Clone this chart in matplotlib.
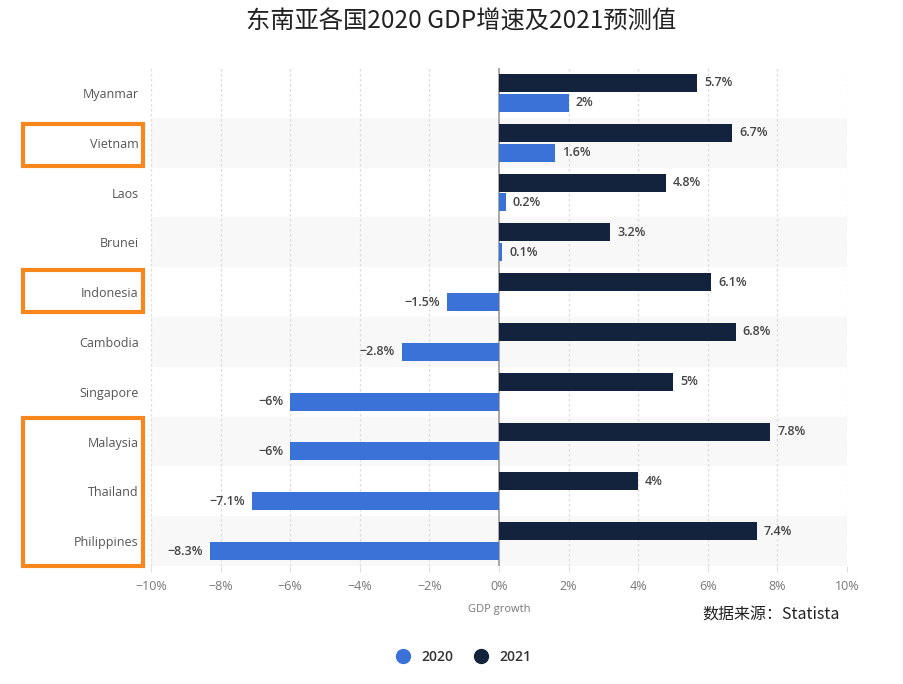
import matplotlib.pyplot as plt
from matplotlib.patches import Rectangle
from matplotlib.lines import Line2D

countries = ["Myanmar", "Vietnam", "Laos", "Brunei", "Indonesia", "Cambodia",
             "Singapore", "Malaysia", "Thailand", "Philippines"]
gdp_2020 = [2, 1.6, 0.2, 0.1, -1.5, -2.8, -6, -6, -7.1, -8.3]
gdp_2021 = [5.7, 6.7, 4.8, 3.2, 6.1, 6.8, 5, 7.8, 4, 7.4]
xticks = [-10, -8, -6, -4, -2, 0, 2, 4, 6, 8, 10]

c2020 = "#3a72d8"
c2021 = "#14233d"
orange = "#f7861c"

plt.rcParams["font.family"] = ["Open Sans", "Noto Sans CJK SC", "DejaVu Sans"]

fig = plt.figure(figsize=(9.04, 6.84), dpi=100)
W, H = 904, 684
ax = fig.add_axes([151 / W, 1 - 566 / H, (847 - 151) / W, (566 - 68) / H])

n = len(countries)
ax.set_xlim(-10, 10)
ax.set_ylim(n, 0)

# 隔行底色
for i in range(n):
    if i % 2 == 1:
        ax.axhspan(i, i + 1, color="#f8f8f8", zorder=0, lw=0)

for t in xticks:
    if t == 0:
        ax.axvline(t, color="#9a9a9a", lw=1.2, zorder=2)
    else:
        ax.axvline(t, color="#dcdcdc", lw=0.9, ls=(0, (2, 2)), zorder=1)

bh = 0.36
for i in range(n):
    y21 = i + 0.5 - 0.2
    y20 = i + 0.5 + 0.2
    ax.barh(y21, gdp_2021[i], height=bh, color=c2021, zorder=3)
    ax.barh(y20, gdp_2020[i], height=bh, color=c2020, zorder=3)
    for y, v in ((y21, gdp_2021[i]), (y20, gdp_2020[i])):
        lab = f"{v:g}%".replace("-", "\u2212")
        if v >= 0:
            ax.text(v + 0.2, y, lab, va="center", ha="left", fontsize=9,
                    color="#444444", fontweight="semibold", zorder=4)
        else:
            ax.text(v - 0.2, y, lab, va="center", ha="right", fontsize=9,
                    color="#444444", fontweight="semibold", zorder=4)

ax.set_yticks([i + 0.5 for i in range(n)])
ax.set_yticklabels(countries, fontsize=9, color="#555555")
ax.set_xticks(xticks)
ax.set_xticklabels([f"{t}%".replace("-", "\u2212") for t in xticks],
                   fontsize=9, color="#777777")
ax.tick_params(axis="y", length=0, pad=9)
ax.tick_params(axis="x", length=4, color="#dddddd", pad=6)
for s in ax.spines.values():
    s.set_visible(False)
ax.set_xlabel("GDP growth", fontsize=8, color="#777777", labelpad=8)

# 橘色框
for x0, y0, x1, y1 in [(23, 124, 143, 166), (23, 270, 143, 312), (23, 418, 143, 566)]:
    fig.patches.append(Rectangle((x0 / W, 1 - y1 / H), (x1 - x0) / W, (y1 - y0) / H,
                                 transform=fig.transFigure, fill=False,
                                 edgecolor=orange, lw=3))

fig.text(461 / W, 1 - 22 / H, "东南亚各国2020 GDP增速及2021预测值",
         ha="center", va="center", fontsize=17.5, color="#222222",
         family=["Noto Sans CJK SC", "DejaVu Sans"])
fig.text(840 / W, 1 - 615 / H, "数据来源：Statista", ha="right", va="center",
         fontsize=11.5, color="#222222", family=["Noto Sans CJK SC", "DejaVu Sans"])

handles = [Line2D([], [], marker="o", ls="", ms=10, color=c2020, label="2020"),
           Line2D([], [], marker="o", ls="", ms=10, color=c2021, label="2021")]
fig.legend(handles=handles, loc="center", bbox_to_anchor=(460 / W, 1 - 657 / H),
           ncol=2, frameon=False, handletextpad=0.3, columnspacing=1.0,
           labelcolor="#333333", prop={"weight": "semibold", "size": 10})

fig.savefig("out.png", dpi=100)
